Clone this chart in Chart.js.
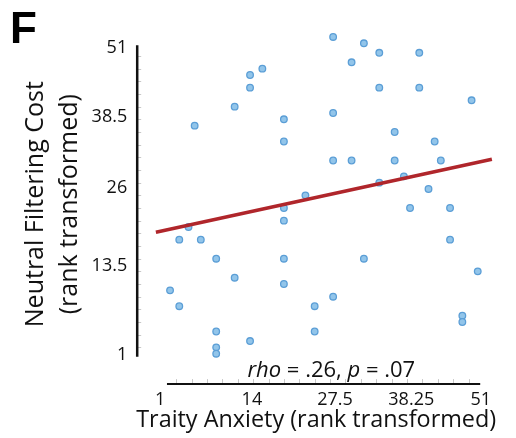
<!DOCTYPE html>
<html>
<head>
<meta charset="utf-8">
<script src="https://cdn.jsdelivr.net/npm/chart.js@4.4.1/dist/chart.umd.min.js"></script>
<style>
  body { margin: 0; background: #fff; }
  #myChart { display: block; }
</style>
</head>
<body>
<canvas id="myChart" width="516" height="438"></canvas>
<script>
// ranks (x = trait anxiety, y = neutral filtering cost)
const anxietyRank = [5, 11.5, 14, 14, 16, 19.5, 19.5, 23, 27.5, 32.5, 35, 41.5, 30.5, 35, 41.5, 50, 27.5,
  37.5, 44, 27.5, 30.5, 37.5, 45, 39, 35, 43, 19.5, 19.5, 4, 2.5, 6, 8.5, 19.5, 11.5, 19.5, 1, 2.5,
  24.5, 8.5, 24.5, 14, 8.5, 8.5, 40, 46.5, 46.5, 32.5, 51, 27.5, 48.5, 48.5];
const costRank = [37, 40, 45, 43, 46, 38, 34.5, 26, 51, 50, 48.5, 48.5, 47, 43, 43, 41, 39,
  36, 34.5, 31.5, 31.5, 31.5, 31.5, 29, 28, 27, 24, 22, 21, 19, 19, 16, 16, 13, 12, 11, 8.5,
  8.5, 4.5, 4.5, 3, 2, 1, 24, 24, 19, 16, 14, 10, 7, 6];

// fitted line as drawn in the figure
const fitSlope = 0.211;
const fitIntercept = 20.44;
const fitRange = [-1.3, 53.3];

const xTickValues = [-0.6, 14.3, 27.8, 40.2, 51.5];
const xTickLabels = ['1', '14', '27.5', '38.25', '51'];
const yTickValues = [0.8, 14.9, 27.2, 38.4, 49.2];
const yTickLabels = ['1', '13.5', '26', '38.5', '51'];

const FONT = "'Open Sans', 'Noto Sans', sans-serif";

const points = anxietyRank.map((x, i) => ({ x: x, y: costRank[i] }));
const fitLine = fitRange.map(x => ({ x: x, y: fitIntercept + fitSlope * x }));

const axisPlugin = {
  id: 'axisPlugin',
  afterDraw(chart) {
    const { ctx, chartArea, scales } = chart;
    const xs = scales.x, ys = scales.y;
    ctx.save();

    // faint minor ticks
    ctx.strokeStyle = '#c8c8c8';
    ctx.lineWidth = 1;
    for (let v = 2; v <= 49; v += 2) {
      const py = Math.round(ys.getPixelForValue(v)) + 0.5;
      ctx.beginPath();
      ctx.moveTo(chartArea.left + 1, py);
      ctx.lineTo(chartArea.left + 5, py);
      ctx.stroke();
    }
    for (let v = 2; v <= 50; v += 2.5) {
      const px = Math.round(xs.getPixelForValue(v)) + 0.5;
      ctx.beginPath();
      ctx.moveTo(px, chartArea.bottom - 1);
      ctx.lineTo(px, chartArea.bottom - 5);
      ctx.stroke();
    }

    // detached axis lines
    ctx.strokeStyle = '#111';
    ctx.lineWidth = 2.5;
    ctx.beginPath();
    ctx.moveTo(chartArea.left + 1, ys.getPixelForValue(49.7));
    ctx.lineTo(chartArea.left + 1, ys.getPixelForValue(0.5));
    ctx.stroke();
    ctx.lineWidth = 2;
    ctx.beginPath();
    ctx.moveTo(xs.getPixelForValue(0.5), chartArea.bottom);
    ctx.lineTo(xs.getPixelForValue(51.4), chartArea.bottom);
    ctx.stroke();

    // stats text
    const parts = [['rho', 'italic'], [' = .26, ', 'normal'], ['p', 'italic'], [' = .07', 'normal']];
    const size = 22;
    let total = 0;
    parts.forEach(p => {
      ctx.font = p[1] + ' ' + size + 'px ' + FONT;
      total += ctx.measureText(p[0]).width;
    });
    let tx = xs.getPixelForValue(27.2) - total / 2;
    const ty = chartArea.bottom - 7;
    ctx.fillStyle = '#111';
    ctx.textBaseline = 'alphabetic';
    ctx.textAlign = 'left';
    parts.forEach(p => {
      ctx.font = p[1] + ' ' + size + 'px ' + FONT;
      ctx.fillText(p[0], tx, ty);
      tx += ctx.measureText(p[0]).width;
    });

    // panel letter
    ctx.font = "bold 44px 'Liberation Sans', Arial, sans-serif";
    ctx.fillStyle = '#000';
    ctx.fillText('F', 10, 43);
    ctx.restore();
  }
};

const chart = new Chart(document.getElementById('myChart'), {
  type: 'scatter',
  data: {
    datasets: [
      {
        type: 'line',
        data: fitLine,
        borderColor: '#b0262b',
        borderWidth: 3.5,
        pointRadius: 0,
        fill: false,
        order: 0
      },
      {
        data: points,
        backgroundColor: '#92c5ea',
        borderColor: '#5b9ed6',
        borderWidth: 1.3,
        pointRadius: 3.3,
        order: 1
      }
    ]
  },
  options: {
    responsive: false,
    animation: false,
    layout: { padding: { left: 0, top: 24.3, right: 19.8, bottom: 0 } },
    plugins: { legend: { display: false }, tooltip: { enabled: false } },
    scales: {
      x: {
        type: 'linear',
        min: -4.5,
        max: 54,
        grid: { display: false, drawTicks: false },
        border: { display: false },
        afterBuildTicks: (scale) => { scale.ticks = xTickValues.map(v => ({ value: v })); },
        afterFit: (scale) => { scale.height = 53.9; },
        ticks: {
          autoSkip: false,
          maxRotation: 0,
          padding: 5,
          color: '#111',
          font: { family: FONT, size: 18 },
          callback: (value, index) => xTickLabels[index]
        },
        title: {
          display: true,
          text: 'Traity Anxiety (rank transformed)',
          color: '#111',
          font: { family: FONT, size: 24 },
          padding: { top: 0, bottom: 3.6 }
        }
      },
      y: {
        type: 'linear',
        min: -3.8,
        max: 53,
        grid: { display: false, drawTicks: false },
        border: { display: false },
        afterBuildTicks: (scale) => { scale.ticks = yTickValues.map(v => ({ value: v })); },
        afterFit: (scale) => { scale.width = 136.2; },
        ticks: {
          autoSkip: false,
          padding: 9,
          color: '#111',
          font: { family: FONT, size: 18 },
          callback: (value, index) => yTickLabels[index]
        },
        title: {
          display: true,
          text: ['Neutral Filtering Cost', '(rank transformed)'],
          color: '#111',
          font: { family: FONT, size: 25, lineHeight: 1.36 },
          padding: { top: 19, bottom: 0 }
        }
      }
    }
  },
  plugins: [axisPlugin]
});
</script>
</body>
</html>
